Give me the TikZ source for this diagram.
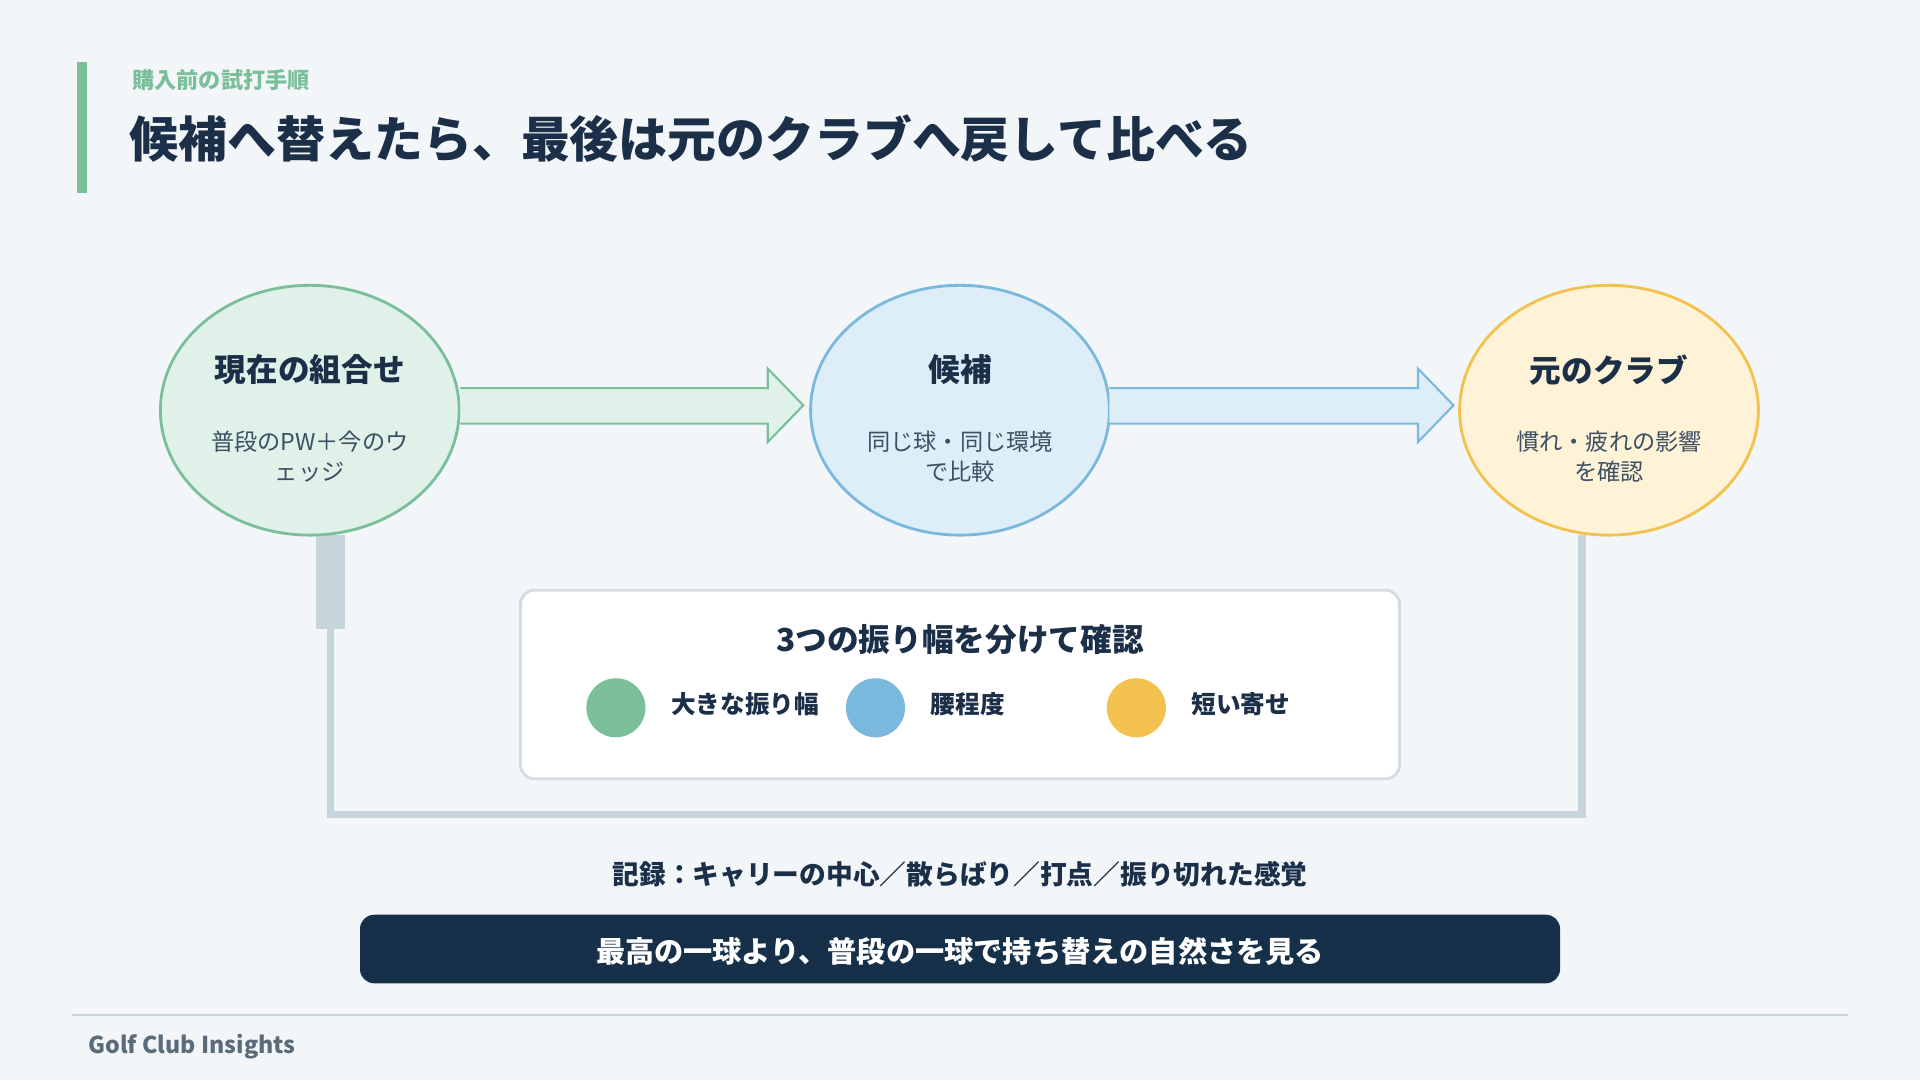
\documentclass[tikz,border=0pt]{standalone}
\usepackage{fontspec}
\setmainfont{Noto Sans CJK JP}
\usetikzlibrary{shapes.geometric}
\definecolor{bg}{HTML}{F3F6F9}
\definecolor{ink}{HTML}{1B3048}
\definecolor{gr}{HTML}{7BBF9A}
\definecolor{grf}{HTML}{DFF1E8}
\definecolor{bl}{HTML}{7AB8DD}
\definecolor{blf}{HTML}{DDEEF8}
\definecolor{ye}{HTML}{F2C14E}
\definecolor{yef}{HTML}{FEF3D6}
\definecolor{pipe}{HTML}{C8D4DC}
\definecolor{navy}{HTML}{17304A}
\definecolor{mut}{HTML}{5C6B7A}
\begin{document}
\begin{tikzpicture}[x=0.012245cm,y=-0.012245cm,
  ell/.style={ellipse,minimum width=244\pgflinewidth,line width=1.5pt},
  ttl/.style={font=\fontsize{9}{11}\selectfont\bfseries,text=ink},
  sub/.style={font=\fontsize{6.6}{8.4}\selectfont,text=ink!85,align=center},
  lab/.style={font=\fontsize{7}{8}\selectfont\bfseries,text=ink,anchor=west},
  dot/.style={circle,minimum size=42\pgflinewidth}]
\fill[bg] (0,0) rectangle (1568,882);
\useasboundingbox (0,0) rectangle (1568,882);
\fill[gr] (63,51) rectangle (71,158);
\node[anchor=west,font=\fontsize{6.3}{7}\selectfont\bfseries,text=gr] (kick) at (98,65) {購入前の試打手順};
\node[anchor=west,font=\fontsize{13.9}{15}\selectfont\bfseries,text=ink] (title) at (96,113) {候補へ替えたら、最後は元のクラブへ戻して比べる};
% return path
\fill[pipe] (258,437) rectangle (282,514);
\draw[pipe,line width=2.1pt] (270,514) -- (270,665) -- (1292,665) -- (1292,437);
% ellipses
\draw[gr,fill=grf,line width=0.8pt] (253,335) ellipse (122 and 102);
\draw[bl,fill=blf,line width=0.8pt] (784,335) ellipse (122 and 102);
\draw[ye,fill=yef,line width=0.8pt] (1314,335) ellipse (122 and 102);
\node[ttl] (t1) at (253,302) {現在の組合せ};
\node[sub] (s1) at (253,373) {普段のPW＋今のウ\\ェッジ};
\node[ttl] (t2) at (784,302) {候補};
\node[sub] (s2) at (784,373) {同じ球・同じ環境\\で比較};
\node[ttl] (t3) at (1314,302) {元のクラブ};
\node[sub] (s3) at (1314,373) {慣れ・疲れの影響\\を確認};
% arrows
\draw[gr,fill=grf,line width=0.6pt] (376,317) -- (627,317) -- (627,301) -- (656,331) -- (627,361) -- (627,346) -- (376,346);
\draw[bl,fill=blf,line width=0.6pt] (906,317) -- (1158,317) -- (1158,301) -- (1187,331) -- (1158,361) -- (1158,346) -- (906,346);
% box
\draw[pipe!80!gray!60,fill=white,line width=0.8pt,rounded corners=4pt] (425,482) rectangle (1143,636);
\node[ttl] (bt) at (784,522) {3つの振り幅を分けて確認};
\node[dot,fill=gr] (d1) at (503,578) {};
\node[dot,fill=bl] (d2) at (715,578) {};
\node[dot,fill=ye] (d3) at (928,578) {};
\node[lab] (l1) at (538,575) {大きな振り幅};
\node[lab] (l2) at (750,575) {腰程度};
\node[lab] (l3) at (963,575) {短い寄せ};
\node[font=\fontsize{7.6}{9}\selectfont\bfseries,text=ink] (rec) at (784,714) {記録：キャリーの中心／散らばり／打点／振り切れた感覚};
\fill[navy,rounded corners=4pt] (294,747) rectangle (1274,803);
\node[font=\fontsize{8.3}{9}\selectfont\bfseries,text=white] (msg) at (784,777) {最高の一球より、普段の一球で持ち替えの自然さを見る};
\draw[pipe,line width=0.5pt] (59,829) -- (1509,829);
\node[anchor=west,font=\fontsize{6.6}{8}\selectfont\bfseries,text=mut] (ft) at (62,855) {Golf Club Insights};
\end{tikzpicture}
\end{document}
